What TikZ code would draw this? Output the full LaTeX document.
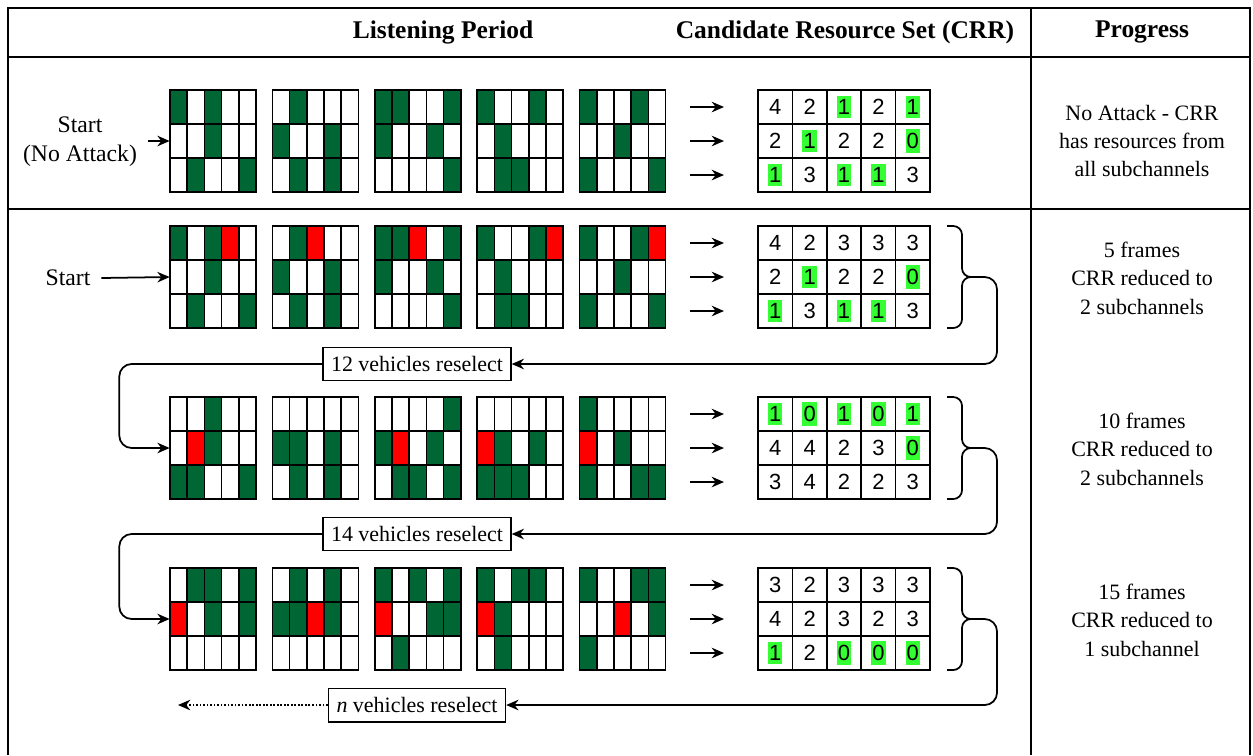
\documentclass[tikz,border=0pt]{standalone}
\usepackage{fontspec}
\setmainfont{Liberation Serif}
\newfontfamily\digitfont{Liberation Sans}
\usetikzlibrary{arrows.meta,positioning,calc}
\definecolor{G}{HTML}{006633}
\definecolor{R}{HTML}{FF0000}
\definecolor{W}{HTML}{FFFFFF}
\definecolor{hl}{HTML}{33FF33}
\tikzset{
  cell/.style={draw=black,line width=0.9pt},
  gridbox/.style={minimum width=1.72cm,minimum height=2.04cm,inner sep=0pt},
  tabbox/.style={minimum width=3.44cm,minimum height=2.04cm,inner sep=0pt},
  num/.style={font=\digitfont\fontsize{12.5}{14}\selectfont,inner xsep=0.6pt,inner ysep=2.2pt},
  txt/.style={font=\fontsize{12.5}{16.2}\selectfont,align=center},
  stlabel/.style={font=\fontsize{13.5}{16.5}\selectfont,align=center,inner xsep=6pt},
  head/.style={font=\bfseries\fontsize{14.5}{17}\selectfont},
  rsbox/.style={txt,draw,line width=0.9pt,inner xsep=4.5pt,minimum height=19pt},
  ar/.style={-{Stealth[length=7pt,width=6pt]},line width=1pt},
  dotar/.style={ar,densely dotted},
  frame/.style={line width=1pt},
}
% one listening frame: name, left, top, list of rows
\newcommand{\slotgrid}[4]{%
  \node[gridbox] (#1) at ({#2+43},{#3+51}) {};
  \foreach \rowlist [count=\ri] in #4 {
    \foreach \cl [count=\ci] in \rowlist {
      \draw[cell,fill=\cl] ({#2+(\ci-1)*17.2},{#3+(\ri-1)*34}) rectangle ++(17.2,34);
    }
  }
}
% candidate resource table: name, top, rows of counts
\newcommand{\crrtable}[3]{%
  \node[tabbox] (#1) at (844,{#2+51}) {};
  \foreach \rowlist [count=\ri] in {#3} {
    \draw[ar] (690,{#2+17+(\ri-1)*34}) -- ++(34,0);
    \foreach \v [count=\ci] in \rowlist {
      \draw[cell] ({758+(\ci-1)*34.4},{#2+(\ri-1)*34}) rectangle ++(34.4,34);
      \ifnum\v<2 \def\hlc{hl}\else\def\hlc{W}\fi
      \node[num,fill=\hlc] at ({758+(\ci-0.5)*34.4},{#2+(\ri-0.5)*34}) {\v};
    }
  }
}
% brace right of a table, tip becomes a coordinate
\newcommand{\crrbrace}[2]{%
  \draw[frame,rounded corners=5pt] (947,#2) -- (962,#2) -- (962,{#2+51}) -- (975,{#2+51});
  \draw[frame,rounded corners=5pt] (947,{#2+102}) -- (962,{#2+102}) -- (962,{#2+51}) -- (975,{#2+51});
  \coordinate (#1) at (972,{#2+51});
}

\begin{document}
\begin{tikzpicture}[x=0.02cm,y=-0.02cm]
\useasboundingbox (0,0) rectangle (1253,755);

% table frame
\draw[frame] (8,755) -- (8,8) -- (1250,8) -- (1250,755);
\draw[frame] (1031,8) -- (1031,755);
\draw[frame] (8,57) -- (1250,57);
\draw[frame] (8,209) -- (1250,209);

\node[head] (hd1) at (443,32) {Listening Period};
\node[head] (hd2) at (845,32) {Candidate Resource Set (CRR)};
\node[head] (hd3) at (1142,32) {Progress};

% no attack
\foreach \pat [count=\i] in {
  {{G,W,G,W,W},{W,W,G,W,W},{W,G,W,W,G}},
  {{W,G,W,W,W},{G,W,W,G,W},{W,G,W,G,W}},
  {{G,G,W,W,G},{G,W,W,G,W},{W,W,W,W,G}},
  {{G,W,W,G,W},{W,G,W,W,W},{W,G,G,W,W}},
  {{G,W,W,G,W},{W,W,G,W,W},{G,W,W,W,G}}}
  {\slotgrid{g0\i}{170+(\i-1)*102.4}{90}{\pat}}
\crrtable{t0}{90}{{4,2,1,2,1},{2,1,2,2,0},{1,3,1,1,3}}
\node[stlabel] (st0) at (80,142) {Start\\(No Attack)};
\draw[ar] (st0.east |- g01.west) -- (g01.west);
\node[txt] (pr0) at (1142,141) {No Attack - CRR\\has resources from\\all subchannels};

% attack, 5 frames
\foreach \pat [count=\i] in {
  {{G,W,G,R,W},{W,W,G,W,W},{W,G,W,W,G}},
  {{W,G,R,W,W},{G,W,W,G,W},{W,G,W,G,W}},
  {{G,G,R,W,G},{G,W,W,G,W},{W,W,W,W,G}},
  {{G,W,W,G,R},{W,G,W,W,W},{W,G,G,W,W}},
  {{G,W,W,G,R},{W,W,G,W,W},{G,W,W,W,G}}}
  {\slotgrid{gA\i}{170+(\i-1)*102.4}{226}{\pat}}
\crrtable{tA}{226}{{4,2,3,3,3},{2,1,2,2,0},{1,3,1,1,3}}
\crrbrace{tipA}{226}
\node[stlabel] (stA) at (68,278) {Start};
\draw[ar] (stA.east) -- (gA1.west);
\node[txt] (prA) at (1142,278) {5 frames\\CRR reduced to\\2 subchannels};

% 10 frames
\foreach \pat [count=\i] in {
  {{W,W,G,W,W},{W,R,G,W,W},{G,G,W,W,G}},
  {{W,W,W,W,W},{G,G,W,G,W},{W,G,W,G,W}},
  {{W,W,W,W,G},{G,R,W,G,W},{W,G,G,W,G}},
  {{W,W,W,W,W},{R,G,W,G,W},{G,G,G,W,W}},
  {{G,W,W,W,W},{R,W,G,W,W},{G,W,W,G,G}}}
  {\slotgrid{gB\i}{170+(\i-1)*102.4}{397}{\pat}}
\crrtable{tB}{397}{{1,0,1,0,1},{4,4,2,3,0},{3,4,2,2,3}}
\crrbrace{tipB}{397}
\node[txt] (prB) at (1142,449) {10 frames\\CRR reduced to\\2 subchannels};

% 15 frames
\foreach \pat [count=\i] in {
  {{W,G,G,W,G},{R,W,G,W,G},{W,W,W,W,W}},
  {{W,G,W,G,W},{G,G,R,G,W},{W,W,W,W,W}},
  {{G,W,G,W,G},{R,W,W,G,G},{W,G,W,W,W}},
  {{G,W,G,G,W},{R,G,W,W,W},{W,G,W,W,W}},
  {{G,W,W,G,G},{W,W,R,W,G},{G,W,W,W,W}}}
  {\slotgrid{gC\i}{170+(\i-1)*102.4}{568}{\pat}}
\crrtable{tC}{568}{{3,2,3,3,3},{4,2,3,2,3},{1,2,0,0,0}}
\crrbrace{tipC}{568}
\node[txt] (prC) at (1142,620) {15 frames\\CRR reduced to\\1 subchannel};

% reselection loops
\node[rsbox] (rsA) at (417,364) {12 vehicles reselect};
\node[rsbox] (rsB) at (417,534) {14 vehicles reselect};
\node[rsbox] (rsN) at (417,705) {\textit{n} vehicles reselect};
\coordinate (endN) at (178,705);

\draw[ar,rounded corners=7pt] (tipA) -- ++(25,0) |- (rsA.east);
\draw[ar,rounded corners=7pt] (rsA.west) -- ++(-203,0) |- (gB1.west);
\draw[ar,rounded corners=7pt] (tipB) -- ++(25,0) |- (rsB.east);
\draw[ar,rounded corners=7pt] (rsB.west) -- ++(-203,0) |- (gC1.west);
\draw[ar,rounded corners=7pt] (tipC) -- ++(25,0) |- (rsN.east);
\draw[dotar] (rsN.west) -- (endN);
\end{tikzpicture}
\end{document}
